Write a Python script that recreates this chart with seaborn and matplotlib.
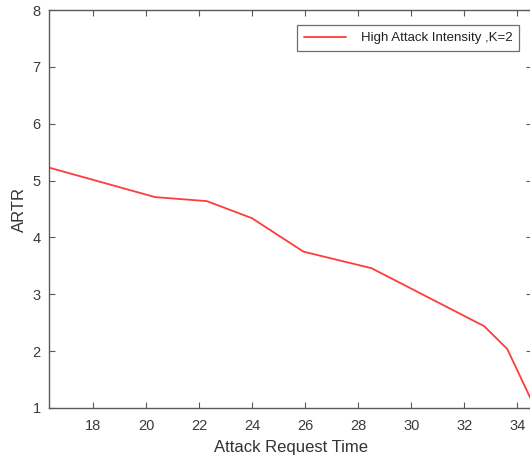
import matplotlib
matplotlib.use("Agg")
import matplotlib.pyplot as plt
import seaborn as sns
import pandas as pd

# Average response time ratio against attack request time
attack_time = [16.34, 20.34, 22.29, 23.99, 25.94, 28.5, 32.75, 33.62, 34.55]
artr = [5.23, 4.71, 4.64, 4.34, 3.75, 3.46, 2.44, 2.04, 1.12]
series_name = "High Attack Intensity ,K=2"
x_ticks = [18, 20, 22, 24, 26, 28, 30, 32, 34]
y_ticks = [1, 2, 3, 4, 5, 6, 7, 8]

df = pd.DataFrame({"Attack Request Time": attack_time, "ARTR": artr,
                   "series": series_name})

sns.set_style("white")
plt.rcParams["font.family"] = ["Liberation Sans", "DejaVu Sans"]

fig = plt.figure(figsize=(5.30, 4.61), dpi=100)
ax = fig.add_axes([0.0925, 0.115, 0.912, 0.863])

sns.lineplot(data=df, x="Attack Request Time", y="ARTR", hue="series",
             palette=["#ff3b3b"], linewidth=1.3, ax=ax, sort=False)

ax.set_xlim(16.34, 34.57)
ax.set_ylim(1, 8)
ax.set_xticks(x_ticks)
ax.set_yticks(y_ticks)

axis_gray = "#5a5a5a"
for sp in ax.spines.values():
    sp.set_visible(True)
    sp.set_color(axis_gray)
    sp.set_linewidth(1.0)
ax.tick_params(direction="in", length=4, width=0.8, color=axis_gray,
               labelcolor="#3a3a3a", labelsize=10.5,
               top=True, right=True, bottom=True, left=True)
ax.tick_params(axis="x", pad=8)
ax.tick_params(axis="y", pad=6)

ax.set_xlabel("Attack Request Time", fontsize=12, color="#333333", labelpad=5)
ax.set_ylabel("ARTR", fontsize=12, color="#333333", labelpad=4)

leg = ax.legend(loc="upper right", bbox_to_anchor=(0.986, 0.978),
                fontsize=9.5, frameon=True, fancybox=False,
                handlelength=3.2, borderpad=0.5, handletextpad=1.1)
leg.get_frame().set_edgecolor("#4a4a4a")
leg.get_frame().set_linewidth(0.9)
for t in leg.get_texts():
    t.set_color("#222222")

fig.savefig("out.png", dpi=100)
